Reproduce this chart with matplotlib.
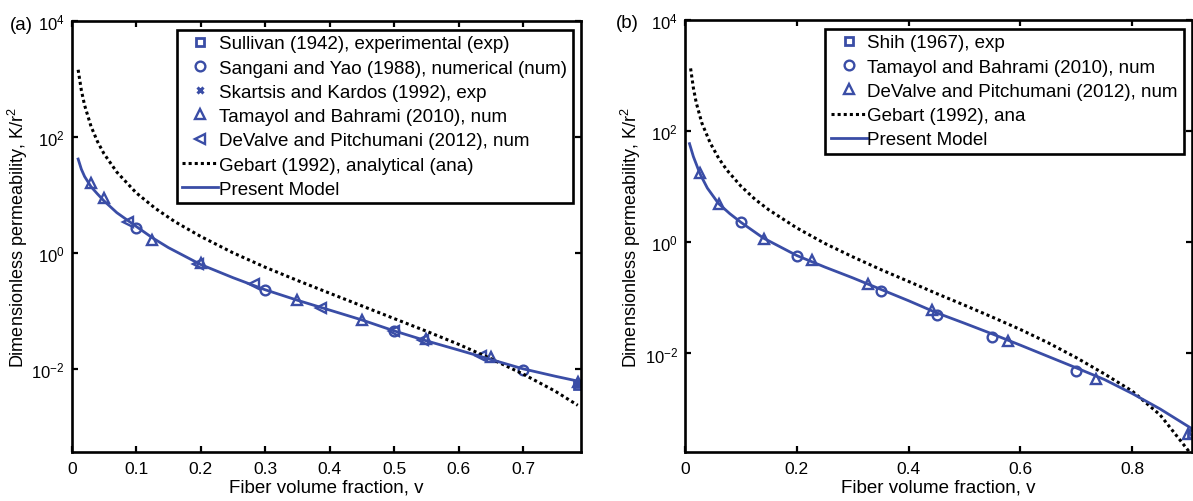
import matplotlib
matplotlib.use('Agg')
import matplotlib.pyplot as plt
import numpy as np

plt.rcParams['font.family'] = ['Liberation Sans', 'DejaVu Sans']
plt.rcParams['mathtext.fontset'] = 'custom'
plt.rcParams['mathtext.rm'] = 'Liberation Sans'
plt.rcParams['mathtext.it'] = 'Liberation Sans:italic'
plt.rcParams['axes.unicode_minus'] = False
plt.rcParams['font.size'] = 12

blue = '#3A4DA6'

# ---- panel (a): square packing ----
model_a_x = [0.01, 0.015, 0.02, 0.03, 0.04, 0.05, 0.07, 0.1, 0.125, 0.15, 0.2, 0.25,
             0.3, 0.35, 0.4, 0.45, 0.5, 0.55, 0.6, 0.65, 0.7, 0.75, 0.79]
model_a_y = [42, 28, 21, 14, 10.5, 8.0, 5.0, 2.9, 1.85, 1.25, 0.64, 0.38,
             0.235, 0.155, 0.105, 0.071, 0.046, 0.031, 0.0215, 0.0148, 0.0102, 0.0076, 0.0061]
gebart_a_x = [0.01, 0.015, 0.02, 0.03, 0.04, 0.05, 0.07, 0.1, 0.13, 0.16, 0.2, 0.25,
              0.3, 0.35, 0.4, 0.45, 0.5, 0.55, 0.6, 0.65, 0.7, 0.75, 0.785]
gebart_a_y = [1450, 640, 355, 153, 84, 52, 25, 11, 5.9, 3.5, 1.95, 1.02,
              0.575, 0.34, 0.205, 0.124, 0.075, 0.0455, 0.027, 0.0153, 0.0083, 0.0042, 0.0024]
sullivan_x = [0.785]
sullivan_y = [0.0053]
sangani_x = [0.1, 0.3, 0.5, 0.7]
sangani_y = [2.7, 0.23, 0.045, 0.0098]
skartsis_x = [0.785]
skartsis_y = [0.0057]
tamayol_a_x = [0.03, 0.05, 0.125, 0.2, 0.35, 0.45, 0.55, 0.65, 0.785]
tamayol_a_y = [16, 8.8, 1.7, 0.68, 0.155, 0.072, 0.033, 0.0165, 0.006]
devalve_a_x = [0.088, 0.196, 0.283, 0.387, 0.5, 0.545, 0.635]
devalve_a_y = [3.5, 0.66, 0.29, 0.114, 0.045, 0.032, 0.0168]

# ---- panel (b): hexagonal packing ----
model_b_x = [0.008, 0.015, 0.027, 0.04, 0.06, 0.08, 0.1, 0.14, 0.2, 0.25, 0.3, 0.35,
             0.4, 0.45, 0.5, 0.55, 0.6, 0.65, 0.7, 0.75, 0.8, 0.85, 0.907]
model_b_y = [60, 35, 17, 9.5, 5.0, 3.3, 2.3, 1.2, 0.58, 0.36, 0.23, 0.143,
             0.089, 0.054, 0.035, 0.0224, 0.0141, 0.0088, 0.0055, 0.0034, 0.0019, 0.001, 0.00044]
gebart_b_x = [0.01, 0.015, 0.02, 0.03, 0.045, 0.06, 0.075, 0.1, 0.125, 0.15, 0.2, 0.25,
              0.3, 0.35, 0.4, 0.45, 0.5, 0.55, 0.6, 0.65, 0.7, 0.75, 0.8, 0.85, 0.9, 0.907]
gebart_b_y = [1360, 600, 330, 142, 62, 33, 20, 10.3, 6.0, 3.85, 1.82, 0.96,
              0.55, 0.325, 0.198, 0.12, 0.074, 0.045, 0.027, 0.0155, 0.0084, 0.0043, 0.0021, 0.00078, 0.00018, 0.00014]
shih_x = [0.907]
shih_y = [0.00036]
tamayol_b_x = [0.1, 0.2, 0.35, 0.45, 0.55, 0.7]
tamayol_b_y = [2.3, 0.58, 0.136, 0.05, 0.02, 0.0049]
devalve_b_x = [0.027, 0.06, 0.142, 0.227, 0.327, 0.442, 0.578, 0.735, 0.9]
devalve_b_y = [18, 5.0, 1.17, 0.48, 0.18, 0.06, 0.017, 0.0034, 0.00036]

fig = plt.figure(figsize=(11.93, 5.02), dpi=100)
ax1 = fig.add_axes([0.0601, 0.097, 0.4269, 0.859])
ax2 = fig.add_axes([0.5742, 0.097, 0.4250, 0.8606])

mk = dict(ls='none', color=blue, mfc='none', mew=1.7, ms=7)
mk_sq = dict(ls='none', color=blue, mfc='none', mew=2.0, ms=6)


def style_axes(ax, xmax, xticks, ymin):
    ax.set_yscale('log')
    ax.set_xlim(0, xmax)
    ax.set_ylim(ymin, 1e4)
    ax.set_xticks(xticks)
    ax.set_xticklabels([('%g' % t) for t in xticks])
    ax.set_yticks([1e-2, 1e0, 1e2, 1e4])
    ax.minorticks_off()
    ax.tick_params(direction='in', top=True, right=True, length=4, width=1.6,
                   labelsize=12.5, pad=6)
    ax.tick_params(axis='y', labelsize=12, pad=5)
    for sp in ax.spines.values():
        sp.set_linewidth(1.9)
    ax.set_xlabel('Fiber volume fraction, v', fontsize=13.5, labelpad=2)
    ax.set_ylabel('Dimensionless permeability, K/r$^2$', fontsize=13, labelpad=1)


def style_legend(leg):
    leg.get_frame().set_edgecolor('black')
    leg.get_frame().set_linewidth(1.9)


leg_kw = dict(loc='upper right', fontsize=13.5, fancybox=False, framealpha=1,
              handlelength=1.9, handletextpad=0.05, labelspacing=0.38,
              borderpad=0.3, borderaxespad=0.45)

# panel (a)
h1, = ax1.plot(sullivan_x, sullivan_y, marker='s', **mk_sq)
h2, = ax1.plot(sangani_x, sangani_y, marker='o', **mk)
h3, = ax1.plot(skartsis_x, skartsis_y, ls='none', marker='x', color=blue, mew=2.2, ms=5)
h4, = ax1.plot(tamayol_a_x, tamayol_a_y, marker='^', **mk)
h5, = ax1.plot(devalve_a_x, devalve_a_y, marker='<', **mk)
h6, = ax1.plot(gebart_a_x, gebart_a_y, color='black', lw=2.2, ls=(0, (1, 1)))
h7, = ax1.plot(model_a_x, model_a_y, color=blue, lw=2)
style_axes(ax1, 0.79, [0, 0.1, 0.2, 0.3, 0.4, 0.5, 0.6, 0.7], 10 ** -3.43)
leg = ax1.legend([h1, h2, h3, h4, h5, h6, h7],
                 ['Sullivan (1942), experimental (exp)',
                  'Sangani and Yao (1988), numerical (num)',
                  'Skartsis and Kardos (1992), exp',
                  'Tamayol and Bahrami (2010), num',
                  'DeValve and Pitchumani (2012), num',
                  'Gebart (1992), analytical (ana)',
                  'Present Model'], **leg_kw)
style_legend(leg)

# panel (b)
g1, = ax2.plot(shih_x, shih_y, marker='s', **mk_sq)
g2, = ax2.plot(tamayol_b_x, tamayol_b_y, marker='o', **mk)
g3, = ax2.plot(devalve_b_x, devalve_b_y, marker='^', **mk)
g4, = ax2.plot(gebart_b_x, gebart_b_y, color='black', lw=2.2, ls=(0, (1, 1)))
g5, = ax2.plot(model_b_x, model_b_y, color=blue, lw=2)
style_axes(ax2, 0.907, [0, 0.2, 0.4, 0.6, 0.8], 10 ** -3.78)
leg2 = ax2.legend([g1, g2, g3, g4, g5],
                  ['Shih (1967), exp',
                   'Tamayol and Bahrami (2010), num',
                   'DeValve and Pitchumani (2012), num',
                   'Gebart (1992), ana',
                   'Present Model'], **leg_kw)
style_legend(leg2)

fig.text(10 / 1193, 1 - 25 / 502, '(a)', fontsize=13.5, va='center', ha='left')
fig.text(616 / 1193, 1 - 24 / 502, '(b)', fontsize=13.5, va='center', ha='left')

fig.savefig('out.png', dpi=100, facecolor='white')
